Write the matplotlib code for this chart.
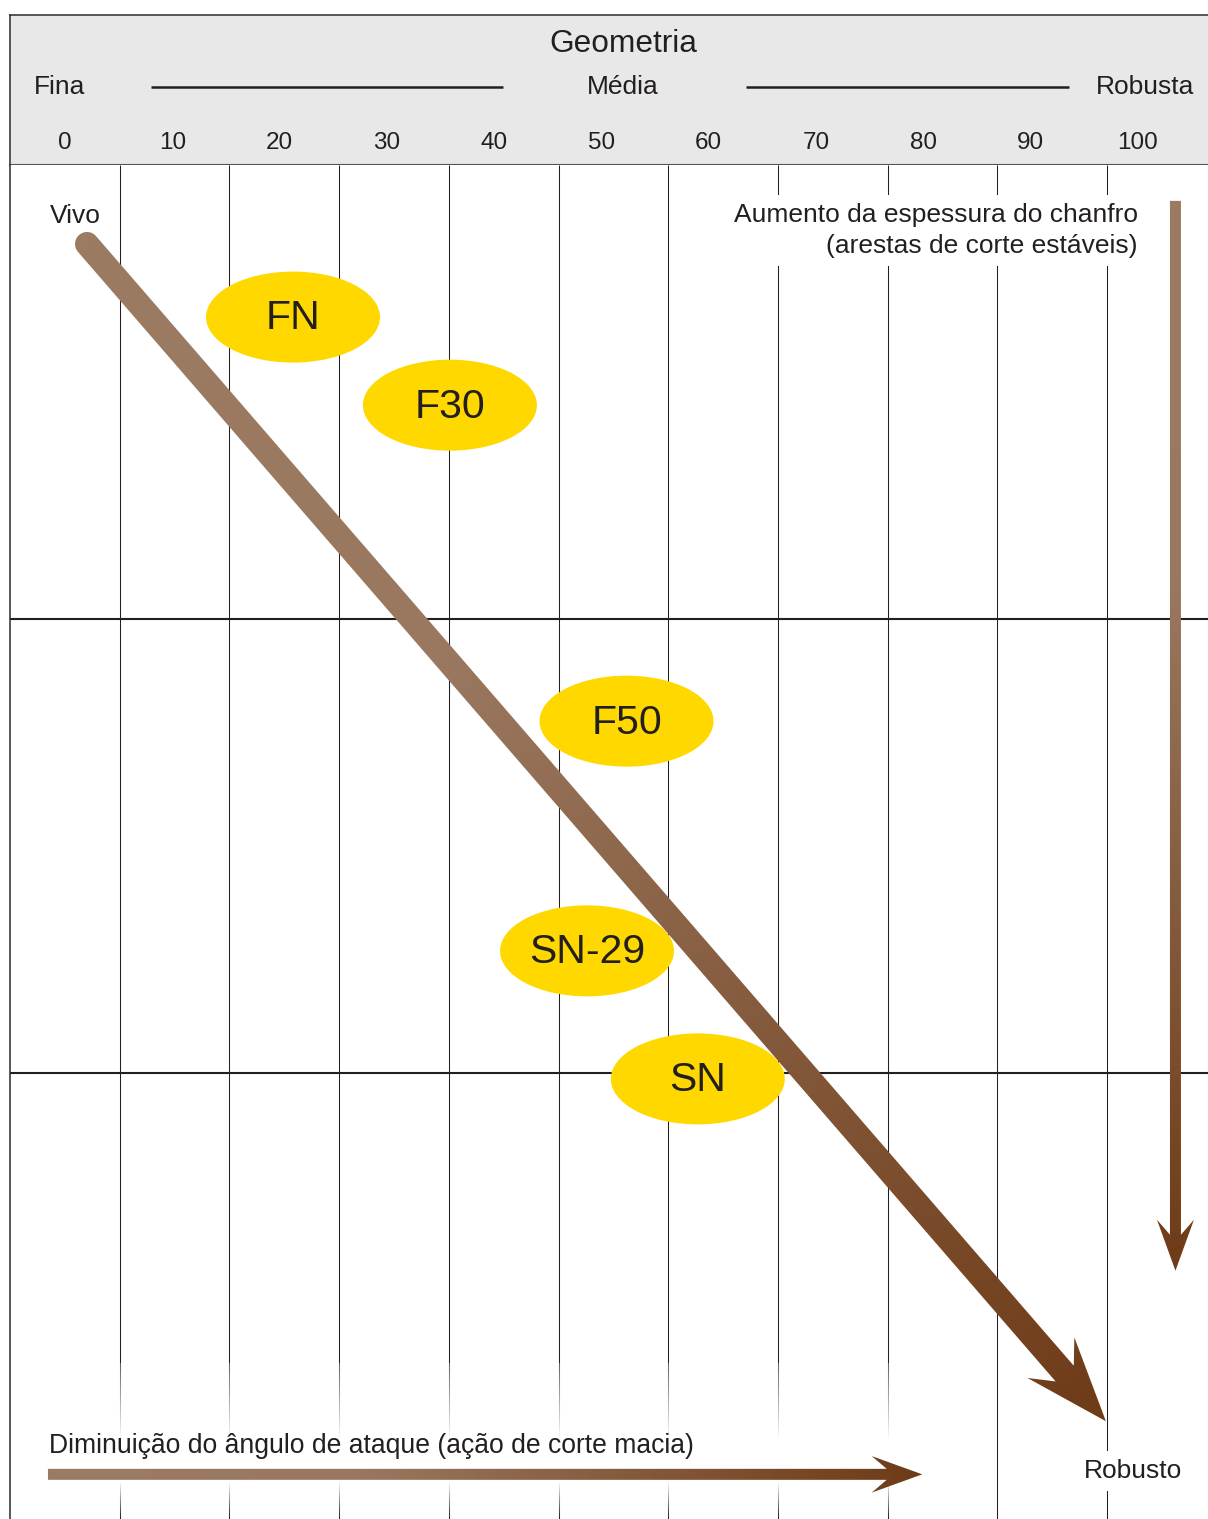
import numpy as np
import matplotlib
matplotlib.use("Agg")
import matplotlib.pyplot as plt
from matplotlib.patches import Ellipse, Polygon
from matplotlib.colors import LinearSegmentedColormap

plt.rcParams['font.family'] = ['Liberation Sans', 'DejaVu Sans']

# ---------------- data ----------------
header_title = "Geometria"
scale_names = ["Fina", "Média", "Robusta"]
scale_ticks = [0, 10, 20, 30, 40, 50, 60, 70, 80, 90, 100]
grid_values = [0, 10, 20, 30, 40, 50, 60, 70, 80, 90, 100]
row_lines = [1, 2]

products = ["FN", "F30", "F50", "SN-29", "SN"]
product_geometry = [25.8, 40.1, 56.2, 52.6, 62.7]     # position on geometry scale
product_level = [0.335, 0.529, 1.225, 1.731, 2.013]    # downward position (rows)

label_vivo = "Vivo"
label_robusto = "Robusto"
label_chamfer = "Aumento da espessura do chanfro\n(arestas de corte estáveis)"
label_rake = "Diminuição do ângulo de ataque (ação de corte macia)"

diag_arrow = [(7.02, 0.174), (99.9, 2.767)]
vert_arrow = [(106.24, 0.079), (106.24, 2.4355)]
horiz_arrow = [(3.46, 2.884), (83.16, 2.884)]

# ---------------- style ----------------
TXT = '#231f20'
YELLOW = '#ffd800'
HEADER_BG = '#e8e8e8'
brown = LinearSegmentedColormap.from_list(
    'brown', [(0, '#9c7b63'), (0.35, '#9a7860'), (1, '#6e3b17')])

W, H, DPI = 1208, 1519, 100
fig = plt.figure(figsize=(W / DPI, H / DPI), dpi=DPI)
fig.patch.set_facecolor('white')

# header axes
hax = fig.add_axes([10 / W, (H - 165) / H, (W - 10) / W, 150 / H])
hax.set_xlim((10 - 65) / 10.73, (W - 65) / 10.73)
hax.set_ylim(0, 1)
hax.set_facecolor(HEADER_BG)
hax.set_xticks([]); hax.set_yticks([])
hax.spines['right'].set_visible(False)
hax.spines['top'].set_linewidth(1.1); hax.spines['top'].set_color('#2b2b2b')
hax.spines['left'].set_linewidth(1.1); hax.spines['left'].set_color('#2b2b2b')
hax.spines['bottom'].set_linewidth(1.5); hax.spines['bottom'].set_color('#555555')

hax.text(52.0, 0.81, header_title, ha='center', va='center', fontsize=22.8, color=TXT)
for name, xv in zip(scale_names, [-0.47, 52.0, 100.65]):
    hax.text(xv, 0.52, name, ha='center', va='center', fontsize=19, color=TXT)
hax.plot([8.01, 40.8], [0.52, 0.52], color=TXT, lw=1.8, solid_capstyle='butt')
hax.plot([63.47, 93.57], [0.52, 0.52], color=TXT, lw=1.8, solid_capstyle='butt')
for v in scale_ticks:
    hax.text(v, 0.147, str(v), ha='center', va='center', fontsize=17.5, color=TXT)

# main axes
ax = fig.add_axes([10 / W, 0, (W - 10) / W, (H - 165) / H])
XMAX = (W - 10) / 10.97
YMAX = (H - 165) / 454.0
ax.set_xlim(0, XMAX)
ax.set_ylim(YMAX, 0)
ax.set_autoscale_on(False)
ax.set_xticks([]); ax.set_yticks([])
for s in ['top', 'right', 'bottom']:
    ax.spines[s].set_visible(False)
ax.spines['left'].set_linewidth(1.1); ax.spines['left'].set_color('#2b2b2b')

ax.vlines(grid_values[1:], 0, YMAX, color=TXT, lw=0.75, zorder=1)
ax.hlines(row_lines, 0, XMAX, color=TXT, lw=1.5, zorder=1)

# fading of grid lines near the bottom text (row 0 = top of the band on screen)
fy = np.linspace(2.639, YMAX, 200)
alpha = np.interp(fy, [2.639, 2.808, 2.901, YMAX], [0.3, 1.0, 1.0, 0.0])
fade = np.ones((200, 2, 4))
fade[:, :, 3] = alpha[:, None]
ax.imshow(fade, extent=(8, 84, 2.639, YMAX), origin='lower',
          aspect='auto', interpolation='bilinear', zorder=2)
ax.set_xlim(0, XMAX); ax.set_ylim(YMAX, 0)


def arrow_polygon(p0, p1, w, head_back, head_half, notch_back, round_start=False):
    p0 = np.asarray(p0, float); p1 = np.asarray(p1, float)
    d = p1 - p0
    u = d / np.hypot(*d)
    n = np.array([-u[1], u[0]])
    pts = []
    if round_start:
        for a in np.linspace(0, np.pi, 24):
            ca, sa = np.cos(a), np.sin(a)
            v = -n * ca - u * sa
            pts.append(p0 + v * w / 2)
    else:
        pts.append(p0 - n * w / 2)
        pts.append(p0 + n * w / 2)
    pts.append(p1 - u * notch_back + n * w / 2)
    pts.append(p1 - u * head_back + n * head_half)
    pts.append(p1)
    pts.append(p1 - u * head_back - n * head_half)
    pts.append(p1 - u * notch_back - n * w / 2)
    if round_start:
        pts.append(p0 - n * w / 2)
    return np.array(pts)


def gradient_arrow(ax, start, end, w, head_back, head_half, notch_back, z, round_start=False):
    p0d = ax.transData.transform(start)
    p1d = ax.transData.transform(end)
    poly_disp = arrow_polygon(p0d, p1d, w, head_back, head_half, notch_back, round_start)
    inv = ax.transData.inverted()
    poly_data = inv.transform(poly_disp)
    patch = Polygon(poly_data, closed=True, facecolor='none', edgecolor='none',
                    transform=ax.transData)
    ax.add_patch(patch)
    xmin, ymin = poly_disp.min(0) - 2
    xmax, ymax = poly_disp.max(0) + 2
    nx = int(xmax - xmin) + 2
    ny = int(ymax - ymin) + 2
    X, Y = np.meshgrid(np.linspace(xmin, xmax, nx), np.linspace(ymin, ymax, ny))
    d = p1d - p0d
    t = ((X - p0d[0]) * d[0] + (Y - p0d[1]) * d[1]) / (d @ d)
    t = np.clip(t, 0, 1)
    x0, y0 = inv.transform((xmin, ymin))
    x1, y1 = inv.transform((xmax, ymax))
    im = ax.imshow(t, cmap=brown, vmin=0, vmax=1, extent=(x0, x1, y0, y1),
                   origin='lower', aspect='auto', interpolation='bilinear', zorder=z)
    im.set_clip_path(patch)


gradient_arrow(ax, diag_arrow[0], diag_arrow[1], 24, 84, 31, 63, 4, round_start=True)
gradient_arrow(ax, vert_arrow[0], vert_arrow[1], 11, 51, 18.5, 36, 4)
gradient_arrow(ax, horiz_arrow[0], horiz_arrow[1], 11, 50.6, 18.3, 35.6, 4)
ax.set_xlim(0, XMAX); ax.set_ylim(YMAX, 0)

# product ellipses
for name, gx, lv in zip(products, product_geometry, product_level):
    ax.add_patch(Ellipse((gx, lv), width=174 / 10.97, height=91 / 454.0,
                         facecolor=YELLOW, edgecolor='none', zorder=5))
    ax.text(gx, lv + 0.003, name, ha='center', va='center', fontsize=29.5, color=TXT, zorder=6)

# annotations
ax.text(5.93, 0.112, label_vivo, ha='center', va='center', fontsize=19, color=TXT, zorder=3)
ax.text(102.8, 0.145, label_chamfer, ha='right', va='center', multialignment='right',
        fontsize=19, color=TXT, linespacing=1.38, zorder=3,
        bbox=dict(boxstyle='square,pad=0.3', facecolor='white', edgecolor='none'))
ax.text(102.37, 2.876, label_robusto, ha='center', va='center', fontsize=19, color=TXT, zorder=3,
        bbox=dict(boxstyle='square,pad=0.3', facecolor='white', edgecolor='none'))
ax.text(3.56, 2.822, label_rake, ha='left', va='center', fontsize=19.1, color=TXT, zorder=3)

fig.savefig('out.png', dpi=DPI, facecolor='white')
